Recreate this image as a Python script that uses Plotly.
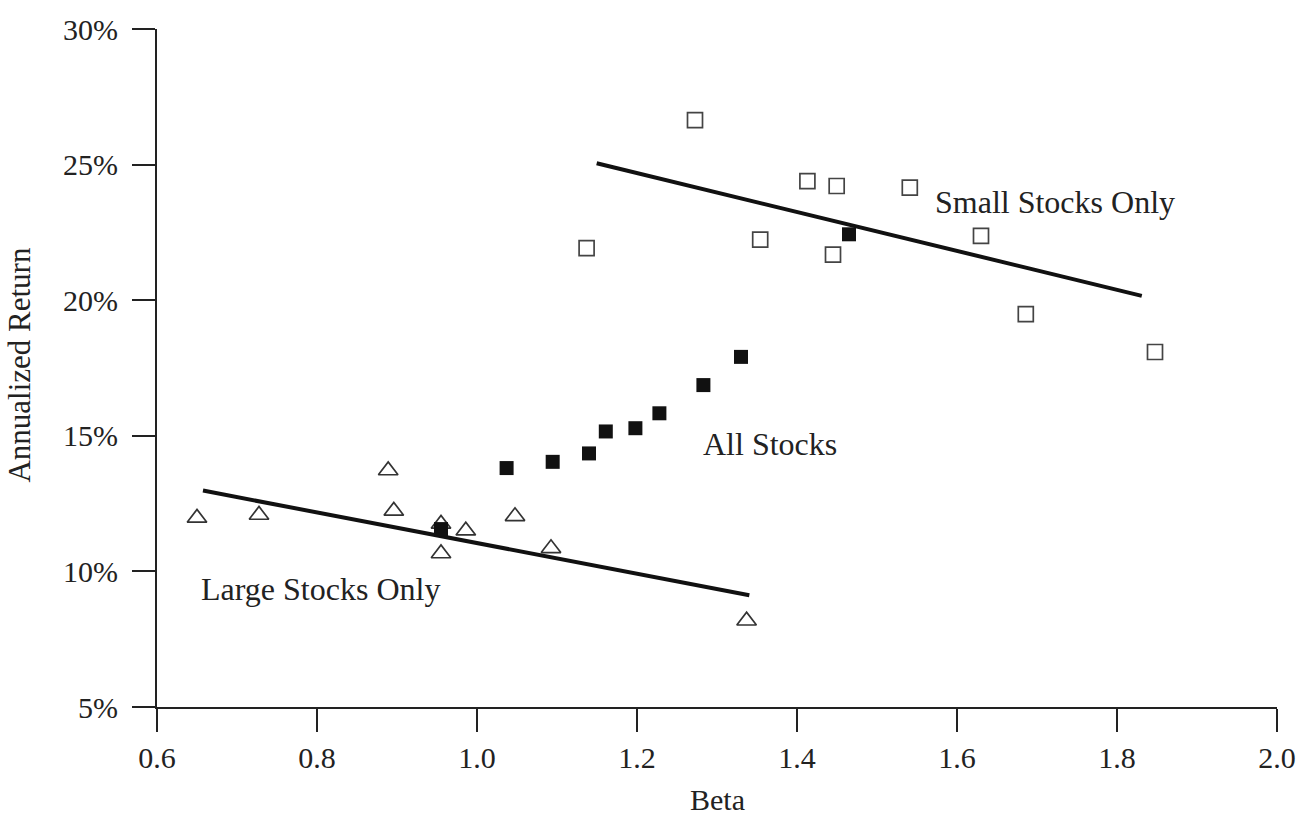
import plotly.graph_objects as go

# Large-cap portfolios (beta, annualized return %)
large_beta = [0.65, 0.7275, 0.889, 0.896, 0.955, 0.955, 0.986, 1.0475, 1.0925, 1.337]
large_ret = [11.97, 12.08, 13.72, 12.23, 11.75, 10.66, 11.50, 12.03, 10.85, 8.18]

# Small-cap portfolios
small_beta = [1.137, 1.2725, 1.354, 1.413, 1.445, 1.4496, 1.541, 1.63, 1.686, 1.8475]
small_ret = [21.92, 26.64, 22.23, 24.39, 21.68, 24.21, 24.15, 22.37, 19.49, 18.09]

# All-stock portfolios
all_beta = [0.955, 1.037, 1.0946, 1.14, 1.161, 1.198, 1.228, 1.283, 1.33, 1.465]
all_ret = [11.56, 13.81, 14.04, 14.35, 15.16, 15.28, 15.83, 16.87, 17.91, 22.43]

# Fitted lines (endpoints)
large_fit_beta = [0.6575, 1.3404]
large_fit_ret = [12.98, 9.12]
small_fit_beta = [1.1496, 1.831]
small_fit_ret = [25.05, 20.16]

x_ticks = [0.6, 0.8, 1.0, 1.2, 1.4, 1.6, 1.8, 2.0]
y_ticks = [5, 10, 15, 20, 25, 30]

FONT = "Liberation Serif"
INK = "#222222"

fig = go.Figure()

fig.add_trace(go.Scatter(
    x=large_fit_beta, y=large_fit_ret, mode="lines",
    line=dict(color="#111111", width=4), showlegend=False))
fig.add_trace(go.Scatter(
    x=small_fit_beta, y=small_fit_ret, mode="lines",
    line=dict(color="#111111", width=4), showlegend=False))

fig.add_trace(go.Scatter(
    x=large_beta, y=large_ret, mode="markers",
    marker=dict(symbol="triangle-up-open", size=17, color="#333333",
                line=dict(width=1.7, color="#333333")),
    showlegend=False))
fig.add_trace(go.Scatter(
    x=small_beta, y=small_ret, mode="markers",
    marker=dict(symbol="square-open", size=15, color="#444444",
                line=dict(width=1.7, color="#444444")),
    showlegend=False))
fig.add_trace(go.Scatter(
    x=all_beta, y=all_ret, mode="markers",
    marker=dict(symbol="square", size=14, color="#111111",
                line=dict(width=0)),
    showlegend=False))

annotations = [
    dict(x=1.366, y=14.71, text="All Stocks", showarrow=False,
         xref="x", yref="y", xanchor="center", yanchor="middle", size=32),
    dict(x=0.804, y=9.34, text="Large Stocks Only", showarrow=False,
         xref="x", yref="y", xanchor="center", yanchor="middle", size=32),
    dict(x=1.7225, y=23.61, text="Small Stocks Only", showarrow=False,
         xref="x", yref="y", xanchor="center", yanchor="middle", size=32),
    dict(x=0.5, y=0, xref="paper", yref="paper", text="Beta",
         showarrow=False, xanchor="center", yanchor="middle", yshift=-92,
         size=30),
    dict(x=0, y=0.505, xref="paper", yref="paper", text="Annualized Return",
         showarrow=False, textangle=-90, xanchor="center", yanchor="middle",
         xshift=-137, size=31),
]
for a in annotations:
    a["font"] = dict(family=FONT, size=a.pop("size"), color=INK)

fig.update_layout(
    width=1315, height=817,
    margin=dict(l=157, r=38, t=22, b=110),
    paper_bgcolor="white", plot_bgcolor="white",
    font=dict(family=FONT, size=30, color=INK),
    annotations=annotations,
    xaxis=dict(
        range=[0.6, 2.0], tickvals=x_ticks,
        ticktext=[f"{v:.1f}" for v in x_ticks],
        showgrid=False, zeroline=False,
        showline=True, linecolor="#222222", linewidth=2,
        ticks="outside", ticklen=23, tickwidth=2, tickcolor="#222222",
        tickfont=dict(family=FONT, size=30, color=INK),
    ),
    yaxis=dict(
        range=[5, 30], tickvals=y_ticks,
        ticktext=[f"{v}%" for v in y_ticks],
        showgrid=False, zeroline=False,
        showline=True, linecolor="#222222", linewidth=2,
        ticks="outside", ticklen=23, tickwidth=2, tickcolor="#222222",
        ticklabelstandoff=8,
        tickfont=dict(family=FONT, size=30, color=INK),
    ),
)

fig.write_html("out.html")
